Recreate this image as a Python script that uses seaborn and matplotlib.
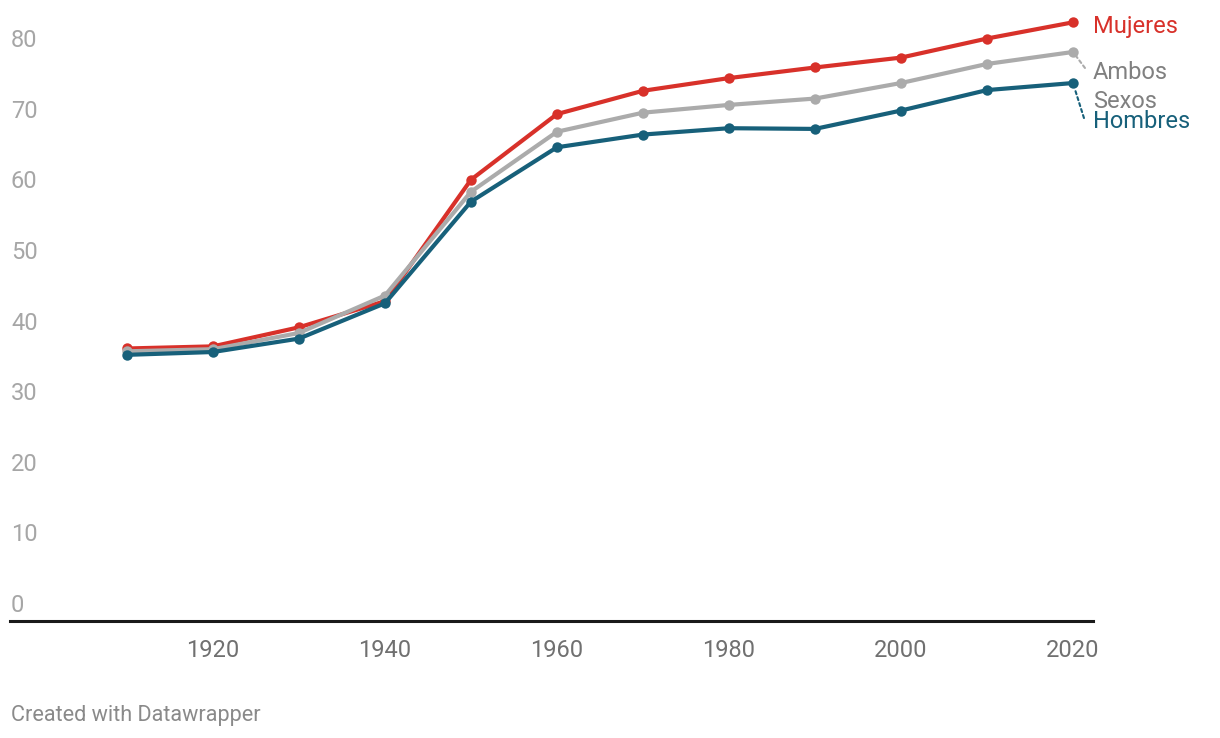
import pandas as pd
import matplotlib.pyplot as plt
import matplotlib.transforms as mtransforms
import seaborn as sns

sns.set_style('white')
plt.rcParams['font.family'] = ['Roboto', 'DejaVu Sans']

# datos (esperanza de vida)
years = [1910, 1920, 1930, 1940, 1950, 1960, 1970, 1980, 1990, 2000, 2010, 2020]
mujeres = [38.6, 38.9, 41.6, 45.3, 62.5, 71.8, 75.1, 76.9, 78.4, 79.8, 82.5, 84.8]
ambos = [38.2, 38.5, 40.8, 46.1, 60.8, 69.3, 72.0, 73.1, 74.0, 76.2, 78.9, 80.6]
hombres = [37.7, 38.1, 40.0, 45.0, 59.4, 67.1, 68.9, 69.8, 69.7, 72.3, 75.2, 76.2]
series = ['Mujeres', 'Ambos Sexos', 'Hombres']
colors = ['#d8312a', '#ababab', '#17607a']
y_ticks = [0, 10, 20, 30, 40, 50, 60, 70, 80]
x_ticks = [1920, 1940, 1960, 1980, 2000, 2020]

df = pd.DataFrame({'Año': years * 3,
                   'Valor': mujeres + ambos + hombres,
                   'Serie': [s for s in series for _ in years]})

fig = plt.figure(figsize=(12.2, 7.38), dpi=100)
ax = fig.add_axes([10 / 1220, 1 - 621 / 738, 1083 / 1220, 621 / 738])

sns.lineplot(data=df, x='Año', y='Valor', hue='Serie', hue_order=series,
             palette=colors, marker='o', markersize=7.5, markeredgewidth=0,
             linewidth=3, legend=False, ax=ax)

ax.set_xlim(1896.4, 2022.33)
ax.set_ylim(0, 621 / 7.06)
sns.despine(ax=ax, left=True, top=True, right=True)
ax.spines['bottom'].set_color('#1a1a1a')
ax.spines['bottom'].set_linewidth(2.2)

ax.set_xticks(x_ticks)
ax.set_xticklabels([str(x) for x in x_ticks])
ax.tick_params(axis='x', length=0, pad=13, labelsize=17, labelcolor='#707070')
ax.set_yticks([])
ax.set_xlabel('')
ax.set_ylabel('')

# etiquetas del eje y sobre cada línea
trans = mtransforms.offset_copy(mtransforms.blended_transform_factory(ax.transAxes, ax.transData),
                                fig=fig, x=1, y=9, units='dots')
for v in y_ticks:
    ax.text(0, v, str(v), transform=trans, ha='left', va='baseline',
            fontsize=17, color='#a6a6a6')

# etiquetas de las series
ax.annotate('Mujeres', xy=(2020, mujeres[-1]), xytext=(20, -4), textcoords='offset pixels',
            ha='left', va='center', fontsize=17, color=colors[0])
ax.annotate('Ambos\nSexos', xy=(2020, ambos[-1]), xytext=(20, -35), textcoords='offset pixels',
            ha='left', va='center', fontsize=17, color='#808080', linespacing=1.3)
ax.annotate('Hombres', xy=(2020, hombres[-1]), xytext=(20, -38), textcoords='offset pixels',
            ha='left', va='center', fontsize=17, color=colors[2])

# conectores punteados
ax.annotate('', xy=(2020, ambos[-1]), xytext=(12, -16), textcoords='offset pixels',
            arrowprops=dict(arrowstyle='-', color='#ababab', linestyle=(0, (1.5, 1.5)),
                            linewidth=1.5, shrinkA=0, shrinkB=4))
ax.annotate('', xy=(2020, hombres[-1]), xytext=(11, -35), textcoords='offset pixels',
            arrowprops=dict(arrowstyle='-', color=colors[2], linestyle=(0, (1.5, 1.5)),
                            linewidth=1.5, shrinkA=0, shrinkB=4))

fig.text(11 / 1220, 1 - 715 / 738, 'Created with Datawrapper', ha='left', va='center',
         fontsize=15.6, color='#8a8a8a')

fig.savefig('out.png', dpi=100)
